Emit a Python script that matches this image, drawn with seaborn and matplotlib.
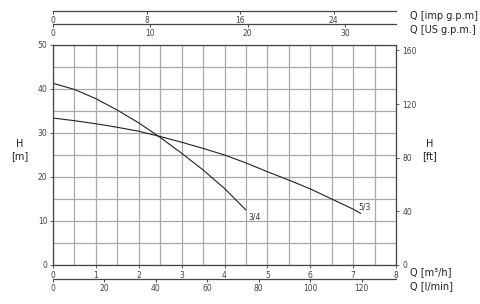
import numpy as np
import pandas as pd
import matplotlib
matplotlib.use("Agg")
import matplotlib.pyplot as plt
import seaborn as sns

# Data (Q in m3/h, H in m)
q_34 = [0.0, 0.5, 1.0, 1.5, 2.0, 2.5, 3.0, 3.5, 4.0, 4.5]
h_34 = [41.3, 39.9, 37.8, 35.2, 32.3, 29.0, 25.4, 21.6, 17.4, 12.5]
q_53 = [0.0, 0.5, 1.0, 1.5, 2.0, 2.5, 3.0, 3.5, 4.0, 4.5, 5.0, 5.5, 6.0, 6.5, 7.0, 7.18]
h_53 = [33.4, 32.8, 32.1, 31.3, 30.4, 29.2, 27.9, 26.5, 25.0, 23.2, 21.2, 19.3, 17.3, 15.0, 12.7, 11.7]
labels = ["3/4", "5/3"]

imp_ticks = [0, 8, 16, 24]
us_ticks = [0, 10, 20, 30]
lmin_ticks = [0, 20, 40, 60, 80, 100, 120]
ft_ticks = [0, 40, 80, 120, 160]

M3H_TO_IMP = 3.6662
M3H_TO_US = 4.4029
M3H_TO_LMIN = 16.6667
M_TO_FT = 3.28084
QMAX = 8
HMAX = 50

sns.set_theme(style="white")
plt.rcParams['font.family'] = ['DejaVu Sans']

W, H = 480, 304
fig = plt.figure(figsize=(W / 100, H / 100), dpi=100)

L, R = 53 / W, 396 / W
ax = fig.add_axes([L, (H - 265) / H, R - L, 220 / H])

df = pd.concat([
    pd.DataFrame({"Q": q_34, "H": h_34, "pump": labels[0]}),
    pd.DataFrame({"Q": q_53, "H": h_53, "pump": labels[1]}),
])
sns.lineplot(data=df, x="Q", y="H", units="pump", estimator=None,
             color="#222222", linewidth=0.8, ax=ax, legend=False, sort=False)

ax.set_xlim(0, QMAX)
ax.set_ylim(0, HMAX)
ax.set_xticks(np.arange(0, QMAX + 1, 1))
ax.set_xticks(np.arange(0, QMAX + 0.01, 0.5), minor=True)
ax.set_yticks(np.arange(0, HMAX + 1, 10))
ax.set_yticks(np.arange(0, HMAX + 0.01, 5), minor=True)
ax.grid(True, which="both", color="#a8a8a8", linewidth=0.9)
ax.set_axisbelow(True)
for s in ax.spines.values():
    s.set_color("#444444")
    s.set_linewidth(0.9)
ax.tick_params(which="major", length=2.5, width=0.6, color="#444444",
               labelsize=5.5, labelcolor="#444444", pad=1.5, direction="out",
               bottom=True, left=True)
ax.tick_params(which="minor", length=0)
ax.set_xlabel("")
ax.set_ylabel("")

# curve labels
ax.text(q_34[-1] + 0.05, h_34[-1] - 0.6, labels[0], fontsize=5.5, color="#333333",
        va="top", ha="left")
ax.text(q_53[-1] - 0.05, h_53[-1] + 0.4, labels[1], fontsize=5.5, color="#333333",
        va="bottom", ha="left")

# right axis feet
axr = ax.twinx()
axr.set_ylim(0, HMAX * M_TO_FT)
axr.set_yticks(ft_ticks)
axr.tick_params(length=2.5, width=0.6, color="#444444", labelsize=5.5,
                labelcolor="#444444", pad=2)
axr.grid(False)
for s in axr.spines.values():
    s.set_visible(False)

fig.text(20 / W, 1 - 150 / H, "H\n[m]", ha="center", va="center",
         fontsize=7, color="#222222", linespacing=1.2)
fig.text(430 / W, 1 - 150 / H, "H\n[ft]", ha="center", va="center",
         fontsize=7, color="#222222", linespacing=1.2)

def scale_axis(ypix, factor, ticks, label, label_y):
    a = fig.add_axes([L, (H - ypix) / H, R - L, 0.0001])
    a.set_facecolor("none")
    for k, s in a.spines.items():
        s.set_visible(k == "bottom")
    a.spines["bottom"].set_color("#444444")
    a.spines["bottom"].set_linewidth(0.9)
    a.set_xlim(0, QMAX * factor)
    a.set_xticks(ticks)
    a.set_yticks([])
    a.tick_params(axis="x", bottom=True, length=2.5, width=0.7, color="#444444",
                  labelsize=5.5, labelcolor="#444444", pad=1.2)
    fig.text(410 / W, 1 - label_y / H, label, ha="left", va="center",
             fontsize=7, color="#222222")
    return a

scale_axis(11, M3H_TO_IMP, imp_ticks, "Q [imp g.p.m]", 16)
scale_axis(24, M3H_TO_US, us_ticks, "Q [US g.p.m.]", 30)
scale_axis(279, M3H_TO_LMIN, lmin_ticks, "Q [l/min]", 286)
fig.text(410 / W, 1 - 272 / H, "Q [m³/h]", ha="left", va="center",
         fontsize=7, color="#222222")

fig.savefig("out.png", dpi=100)
